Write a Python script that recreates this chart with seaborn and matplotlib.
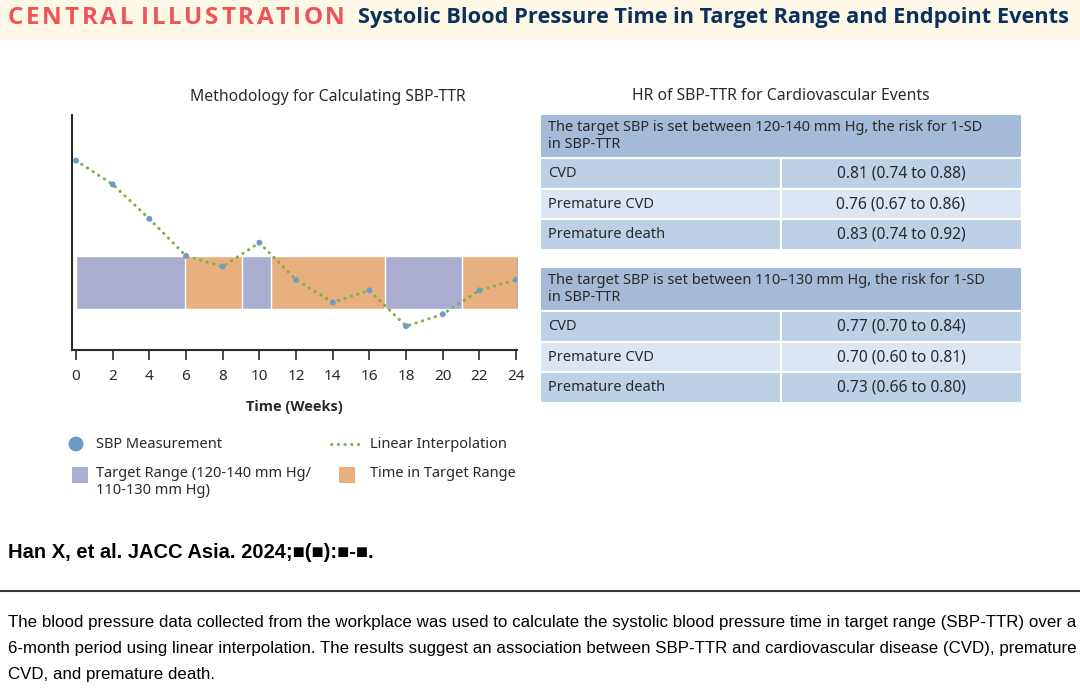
import matplotlib
matplotlib.use("Agg")
import matplotlib.pyplot as plt
import seaborn as sns
from matplotlib.patches import Rectangle
from matplotlib.lines import Line2D

# SBP readings every 2 weeks (mm Hg)
weeks = [0, 2, 4, 6, 8, 10, 12, 14, 16, 18, 20, 22, 24]
sbp = [176, 167, 154, 140, 136, 145, 131, 122.5, 127, 113.5, 118, 127, 131]
week_ticks = [0, 2, 4, 6, 8, 10, 12, 14, 16, 18, 20, 22, 24]

# target range band and the stretches spent inside it
target_low = 120
target_high = 140
band_start = 0
band_end = 24.15
in_range_start = [5.93, 10.65, 21.05]
in_range_end = [9.03, 16.85, 24.15]

# hazard ratio tables
outcomes = ["CVD", "Premature CVD", "Premature death"]
hr_120_140 = ["0.81 (0.74 to 0.88)", "0.76 (0.67 to 0.86)", "0.83 (0.74 to 0.92)"]
hr_110_130 = ["0.77 (0.70 to 0.84)", "0.70 (0.60 to 0.81)", "0.73 (0.66 to 0.80)"]
header_120_140 = "The target SBP is set between 120-140 mm Hg, the risk for 1-SD\nin SBP-TTR"
header_110_130 = "The target SBP is set between 110\u2013130 mm Hg, the risk for 1-SD\nin SBP-TTR"

caption = [
    "The blood pressure data collected from the workplace was used to calculate the systolic blood pressure time in target range (SBP-TTR) over a",
    "6-month period using linear interpolation. The results suggest an association between SBP-TTR and cardiovascular disease (CVD), premature",
    "CVD, and premature death.",
]

# colours
cream = "#FEF8E6"
red = "#F0525A"
navy = "#0B2F5F"
purple = "#AAADD0"
orange = "#E9B07F"
blue = "#6D9BC3"
green = "#7FB04E"
head_blue = "#A3BBD8"
row_mid = "#BCD0E6"
row_light = "#DCE6F2"
text_col = "#2a2a2a"

sns.set_theme(style="white")
plt.rcParams["font.family"] = ["Noto Sans", "DejaVu Sans"]
narrow = ["Liberation Sans Narrow", "Liberation Sans", "DejaVu Sans"]
bold_fam = ["Open Sans", "DejaVu Sans"]

W, H = 1080, 689


def fx(x):
    return x / W


def fy(y):
    return 1 - y / H


fig = plt.figure(figsize=(10.8, 6.89), dpi=100)
fig.patch.set_facecolor("white")
renderer = fig.canvas.get_renderer()


def fit_width(t, width):
    # scale the font so the text spans the given pixel width
    w = t.get_window_extent(renderer).width
    t.set_fontsize(t.get_fontsize() * width / w)


def spaced_text(x0, x1, y, s, **kw):
    # letter-spaced text spread between pixel x0 and x1
    words = s.split(" ")
    letters = []
    for wi, word in enumerate(words):
        for ch in word:
            t = fig.text(fx(x0), fy(y), ch, va="center", **kw)
            letters.append([t, t.get_window_extent(renderer).width, wi])
    space = kw.get("fontsize", 12) * 0.3
    total = sum(w for _, w, _ in letters) + space * (len(words) - 1)
    track = (x1 - x0 - total) / (len(letters) - 1)
    x = x0
    prev = 0
    for t, w, wi in letters:
        if wi != prev:
            x += space
            prev = wi
        t.set_x(fx(x))
        x += w + track


# header band
fig.add_artist(Rectangle((0, fy(40)), 1, 40 / H, transform=fig.transFigure,
                         facecolor=cream, edgecolor="none", zorder=0))
spaced_text(8, 345, 18, "CENTRAL ILLUSTRATION", color=red, weight="bold",
            family=bold_fam, fontsize=17.5)
t2 = fig.text(fx(358), fy(18), "Systolic Blood Pressure Time in Target Range and Endpoint Events",
              color=navy, weight="bold", family=bold_fam, fontsize=14, va="center")
fit_width(t2, 715)

# left: SBP-TTR methodology
ax = fig.add_axes([fx(72), fy(350), 445 / W, 235 / H])
ax.broken_barh([(band_start, band_end - band_start)], (target_low, target_high - target_low),
               facecolors=purple, zorder=1)
spans = [(s, e - s) for s, e in zip(in_range_start, in_range_end)]
ax.broken_barh(spans, (target_low, target_high - target_low), facecolors=orange, zorder=1)
sns.lineplot(x=weeks, y=sbp, ax=ax, color=green, linewidth=2.2,
             linestyle=(0, (0.1, 2.1)), dash_capstyle="round", zorder=2)
sns.scatterplot(x=weeks, y=sbp, ax=ax, color=blue, s=18, edgecolor="none", zorder=3)
ax.set_xlim(-0.22, 24.05)
ax.set_ylim(104.5, 193.2)
ax.set_xticks(week_ticks)
ax.set_yticks([])
ax.tick_params(axis="x", bottom=True, length=7, width=1.2, color=text_col,
               labelsize=11, labelcolor=text_col, pad=7)
sns.despine(ax=ax)
for s in ["left", "bottom"]:
    ax.spines[s].set_color(text_col)
    ax.spines[s].set_linewidth(1.5)
ax.set_xlabel("Time (Weeks)", fontsize=10.5, weight="bold", family=bold_fam,
              color=text_col, labelpad=11)
fig.text(fx(328), fy(97), "Methodology for Calculating SBP-TTR", ha="center", va="center",
         fontsize=11.3, color=text_col)

# legend drawn by hand so the two columns line up like the original
lg = fig.add_axes([fx(60), fy(505), 480 / W, 75 / H])
lg.set_xlim(60, 540)
lg.set_ylim(505, 430)
lg.axis("off")
lg.scatter([76], [444], s=115, color=blue, edgecolor="none")
lg.add_line(Line2D([331, 362], [444, 444], color=green, linewidth=2.2,
                   linestyle=(0, (0.1, 2.1)), dash_capstyle="round"))
lg.add_patch(Rectangle((72, 466.5), 16, 16, facecolor=purple, edgecolor="none"))
lg.add_patch(Rectangle((339, 466.5), 16, 16, facecolor=orange, edgecolor="none"))
lg.text(96, 444, "SBP Measurement", va="center", fontsize=10.5, color=text_col)
lg.text(370, 444, "Linear Interpolation", va="center", fontsize=10.5, color=text_col)
lg.text(96, 482, "Target Range (120-140 mm Hg/\n110-130 mm Hg)", va="center",
        fontsize=10.5, color=text_col, linespacing=1.25)
lg.text(370, 473, "Time in Target Range", va="center", fontsize=10.5, color=text_col)

# right: HR tables
tb = fig.add_axes([fx(540), fy(410), 482 / W, 300 / H])
tb.set_xlim(540, 1022)
tb.set_ylim(410, 110)
tb.axis("off")


def draw_table(top, header, values):
    tb.add_patch(Rectangle((540, top), 482, 44, facecolor=head_blue, edgecolor="white", lw=1.5))
    tb.text(548, top + 22, header, va="center", fontsize=10.5, color=text_col, linespacing=1.2)
    for i, (name, val) in enumerate(zip(outcomes, values)):
        y0 = top + 44 + i * 30.7
        col = row_mid if i % 2 == 0 else row_light
        tb.add_patch(Rectangle((540, y0), 241, 30.7, facecolor=col, edgecolor="white", lw=1.5))
        tb.add_patch(Rectangle((781, y0), 241, 30.7, facecolor=col, edgecolor="white", lw=1.5))
        tb.text(548, y0 + 15.5, name, va="center", fontsize=10.5, color=text_col)
        tb.text(901, y0 + 15.5, val, ha="center", va="center", fontsize=11.2, color=text_col)


draw_table(114, header_120_140, hr_120_140)
draw_table(267, header_110_130, hr_110_130)
fig.text(fx(781), fy(96), "HR of SBP-TTR for Cardiovascular Events", ha="center", va="center",
         fontsize=11.3, color=text_col)

# citation, rule and caption
cite = fig.text(fx(8), fy(552), "Han X, et al. JACC Asia. 2024;\u25a0(\u25a0):\u25a0-\u25a0.",
                weight="bold", family=narrow, fontsize=12, va="center", color="black")
fit_width(cite, 364)
fig.add_artist(Line2D([0, 1], [fy(590.5), fy(590.5)], transform=fig.transFigure,
                      color="#3a3a3a", linewidth=1.5))
lines = []
for i, line in enumerate(caption):
    lines.append(fig.text(fx(8), fy(622 + i * 26.5), line, family=narrow, fontsize=12,
                          va="center", color="black"))
fit_width(lines[0], 1067)
for t in lines[1:]:
    t.set_fontsize(lines[0].get_fontsize())

fig.savefig("out.png", dpi=100)
